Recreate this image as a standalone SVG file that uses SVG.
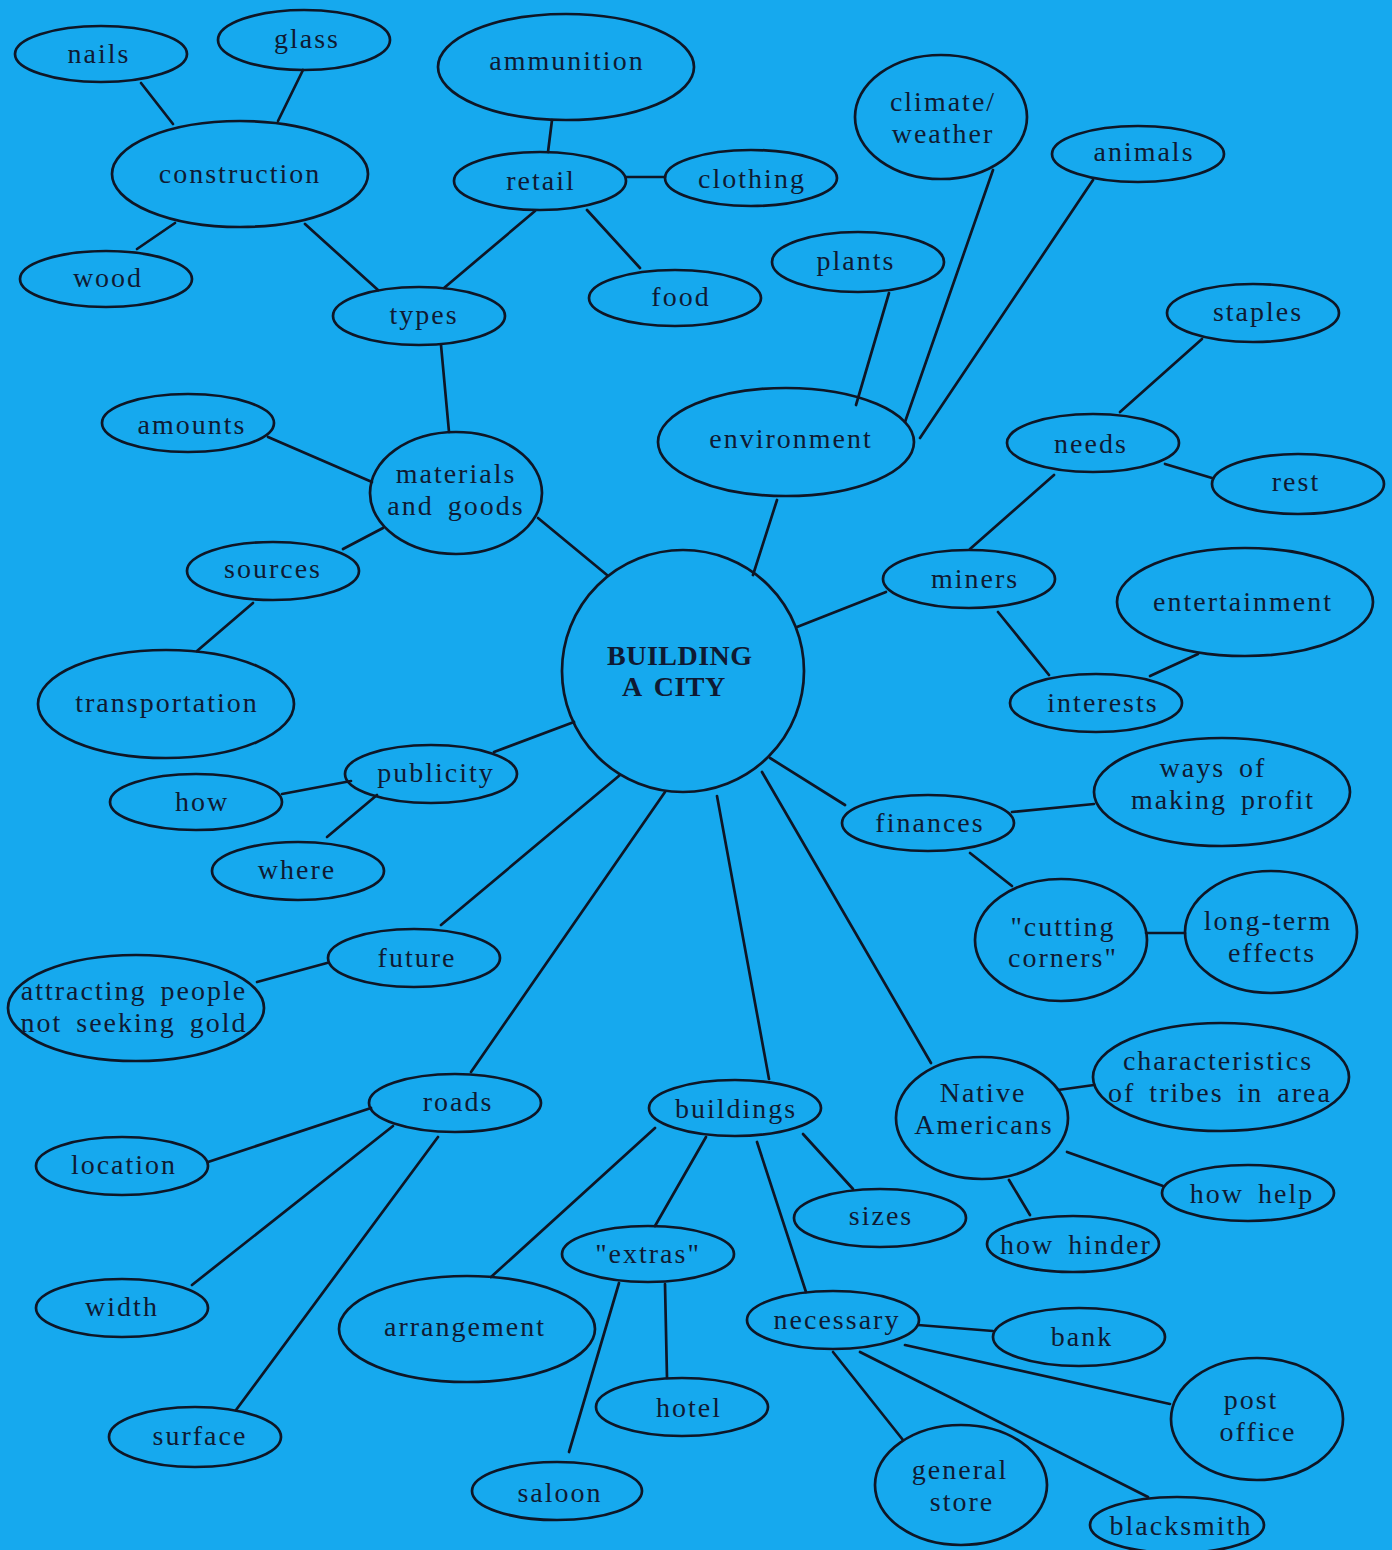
<svg xmlns="http://www.w3.org/2000/svg" width="1392" height="1550" viewBox="0 0 1392 1550">
<style>
  .bg { fill: #16a9ee; }
  .node ellipse, .node circle { fill: none; stroke: #0e1626; stroke-width: 2.7; }
  .edges line { stroke: #0e1626; stroke-width: 2.7; stroke-linecap: round; }
  text { font-family: "Liberation Serif", "DejaVu Serif", serif; font-size: 28px; fill: #0f1a33; text-anchor: middle; dominant-baseline: central; letter-spacing: 2px; word-spacing: 5px; }
  .hub text { font-size: 28px; text-anchor: start; letter-spacing: 0.5px; font-weight: bold; }
</style>
<rect class="bg" x="0" y="0" width="1392" height="1550"/>

<g class="edges">
  <line x1="141" y1="83" x2="173" y2="124"/>
  <line x1="303" y1="70" x2="278" y2="121"/>
  <line x1="175" y1="223" x2="137" y2="249"/>
  <line x1="305" y1="224" x2="378" y2="290"/>
  <line x1="552" y1="120" x2="548" y2="152"/>
  <line x1="626" y1="177" x2="665" y2="177"/>
  <line x1="535" y1="211" x2="444" y2="288"/>
  <line x1="587" y1="210" x2="640" y2="268"/>
  <line x1="441" y1="345" x2="449" y2="432"/>
  <line x1="268" y1="437" x2="372" y2="482"/>
  <line x1="343" y1="549" x2="383" y2="528"/>
  <line x1="253" y1="603" x2="197" y2="651"/>
  <line x1="538" y1="518" x2="607" y2="575"/>
  <line x1="889" y1="293" x2="856" y2="405"/>
  <line x1="993" y1="170" x2="905" y2="422"/>
  <line x1="1093" y1="180" x2="920" y2="438"/>
  <line x1="777" y1="500" x2="753" y2="575"/>
  <line x1="1202" y1="339" x2="1120" y2="412"/>
  <line x1="1165" y1="464" x2="1212" y2="478"/>
  <line x1="1054" y1="475" x2="970" y2="549"/>
  <line x1="797" y1="627" x2="886" y2="592"/>
  <line x1="998" y1="612" x2="1049" y2="675"/>
  <line x1="1150" y1="676" x2="1198" y2="654"/>
  <line x1="574" y1="722" x2="494" y2="752"/>
  <line x1="282" y1="794" x2="351" y2="781"/>
  <line x1="327" y1="837" x2="377" y2="795"/>
  <line x1="770" y1="758" x2="845" y2="805"/>
  <line x1="1012" y1="812" x2="1094" y2="804"/>
  <line x1="970" y1="853" x2="1012" y2="886"/>
  <line x1="1146" y1="933" x2="1185" y2="933"/>
  <line x1="620" y1="775" x2="441" y2="925"/>
  <line x1="257" y1="982" x2="327" y2="963"/>
  <line x1="665" y1="792" x2="471" y2="1072"/>
  <line x1="717" y1="796" x2="769" y2="1079"/>
  <line x1="762" y1="772" x2="931" y2="1063"/>
  <line x1="208" y1="1162" x2="371" y2="1108"/>
  <line x1="192" y1="1285" x2="393" y2="1126"/>
  <line x1="236" y1="1410" x2="438" y2="1137"/>
  <line x1="655" y1="1128" x2="491" y2="1277"/>
  <line x1="706" y1="1137" x2="655" y2="1226"/>
  <line x1="803" y1="1134" x2="853" y2="1189"/>
  <line x1="757" y1="1142" x2="806" y2="1292"/>
  <line x1="1058" y1="1090" x2="1094" y2="1085"/>
  <line x1="1067" y1="1152" x2="1163" y2="1186"/>
  <line x1="1009" y1="1180" x2="1030" y2="1215"/>
  <line x1="665" y1="1284" x2="667" y2="1378"/>
  <line x1="619" y1="1283" x2="569" y2="1452"/>
  <line x1="918" y1="1325" x2="993" y2="1331"/>
  <line x1="905" y1="1345" x2="1170" y2="1404"/>
  <line x1="833" y1="1352" x2="903" y2="1440"/>
  <line x1="860" y1="1352" x2="1148" y2="1497"/>
</g>

<g id="hub" class="node hub">
  <circle cx="683" cy="671" r="121"/>
  <text x="607" y="655">BUILDING</text>
  <text x="622" y="686">A CITY</text>
</g>

<g id="nails" class="node"><ellipse cx="101" cy="54" rx="86" ry="28"/><text x="99" y="53">nails</text></g>
<g id="glass" class="node"><ellipse cx="304" cy="40" rx="86" ry="30"/><text x="307" y="38">glass</text></g>
<g id="construction" class="node"><ellipse cx="240" cy="174" rx="128" ry="53"/><text x="240" y="173">construction</text></g>
<g id="wood" class="node"><ellipse cx="106" cy="279" rx="86" ry="28"/><text x="108" y="277">wood</text></g>
<g id="ammunition" class="node"><ellipse cx="566" cy="67" rx="128" ry="53"/><text x="567" y="60">ammunition</text></g>
<g id="retail" class="node"><ellipse cx="540" cy="181" rx="86" ry="29"/><text x="541" y="180">retail</text></g>
<g id="clothing" class="node"><ellipse cx="751" cy="178" rx="86" ry="28"/><text x="752" y="178">clothing</text></g>
<g id="food" class="node"><ellipse cx="675" cy="298" rx="86" ry="28"/><text x="681" y="296">food</text></g>
<g id="types" class="node"><ellipse cx="419" cy="316" rx="86" ry="29"/><text x="424" y="314">types</text></g>
<g id="climate" class="node"><ellipse cx="941" cy="117" rx="86" ry="62"/><text x="943" y="101">climate/</text><text x="943" y="133">weather</text></g>
<g id="animals" class="node"><ellipse cx="1138" cy="154" rx="86" ry="28"/><text x="1144" y="151">animals</text></g>
<g id="plants" class="node"><ellipse cx="858" cy="262" rx="86" ry="30"/><text x="856" y="260">plants</text></g>
<g id="staples" class="node"><ellipse cx="1253" cy="313" rx="86" ry="29"/><text x="1258" y="311">staples</text></g>
<g id="environment" class="node"><ellipse cx="786" cy="442" rx="128" ry="54"/><text x="791" y="438">environment</text></g>
<g id="needs" class="node"><ellipse cx="1093" cy="443" rx="86" ry="29"/><text x="1091" y="443">needs</text></g>
<g id="rest" class="node"><ellipse cx="1298" cy="484" rx="86" ry="30"/><text x="1296" y="481">rest</text></g>
<g id="amounts" class="node"><ellipse cx="188" cy="423" rx="86" ry="29"/><text x="192" y="424">amounts</text></g>
<g id="materials" class="node"><ellipse cx="456" cy="493" rx="86" ry="61"/><text x="456" y="473">materials</text><text x="456" y="505">and goods</text></g>
<g id="sources" class="node"><ellipse cx="273" cy="571" rx="86" ry="29"/><text x="273" y="568">sources</text></g>
<g id="miners" class="node"><ellipse cx="969" cy="579" rx="86" ry="29"/><text x="975" y="578">miners</text></g>
<g id="entertainment" class="node"><ellipse cx="1245" cy="602" rx="128" ry="54"/><text x="1243" y="601">entertainment</text></g>
<g id="interests" class="node"><ellipse cx="1096" cy="703" rx="86" ry="29"/><text x="1103" y="702">interests</text></g>
<g id="transportation" class="node"><ellipse cx="166" cy="704" rx="128" ry="54"/><text x="167" y="702">transportation</text></g>
<g id="publicity" class="node"><ellipse cx="431" cy="774" rx="86" ry="29"/><text x="436" y="772">publicity</text></g>
<g id="how" class="node"><ellipse cx="196" cy="802" rx="86" ry="28"/><text x="202" y="801">how</text></g>
<g id="where" class="node"><ellipse cx="298" cy="871" rx="86" ry="29"/><text x="297" y="869">where</text></g>
<g id="profit" class="node"><ellipse cx="1222" cy="792" rx="128" ry="54"/><text x="1213" y="767">ways of</text><text x="1223" y="799">making profit</text></g>
<g id="finances" class="node"><ellipse cx="928" cy="823" rx="86" ry="28"/><text x="930" y="822">finances</text></g>
<g id="cutting" class="node"><ellipse cx="1061" cy="940" rx="86" ry="61"/><text x="1063" y="926">"cutting</text><text x="1063" y="957">corners"</text></g>
<g id="longterm" class="node"><ellipse cx="1271" cy="932" rx="86" ry="61"/><text x="1268" y="920">long-term</text><text x="1272" y="952">effects</text></g>
<g id="future" class="node"><ellipse cx="414" cy="958" rx="86" ry="29"/><text x="417" y="957">future</text></g>
<g id="attracting" class="node"><ellipse cx="136" cy="1008" rx="128" ry="53"/><text x="134" y="990">attracting people</text><text x="134" y="1022">not seeking gold</text></g>
<g id="roads" class="node"><ellipse cx="455" cy="1103" rx="86" ry="29"/><text x="458" y="1101">roads</text></g>
<g id="buildings" class="node"><ellipse cx="735" cy="1108" rx="86" ry="28"/><text x="736" y="1108">buildings</text></g>
<g id="native" class="node"><ellipse cx="982" cy="1118" rx="86" ry="61"/><text x="983" y="1092">Native</text><text x="984" y="1124">Americans</text></g>
<g id="tribes" class="node"><ellipse cx="1221" cy="1077" rx="128" ry="54"/><text x="1218" y="1060">characteristics</text><text x="1220" y="1092">of tribes in area</text></g>
<g id="howhelp" class="node"><ellipse cx="1248" cy="1193" rx="86" ry="28"/><text x="1252" y="1193">how help</text></g>
<g id="location" class="node"><ellipse cx="122" cy="1166" rx="86" ry="29"/><text x="124" y="1164">location</text></g>
<g id="sizes" class="node"><ellipse cx="880" cy="1218" rx="86" ry="29"/><text x="881" y="1215">sizes</text></g>
<g id="howhinder" class="node"><ellipse cx="1073" cy="1244" rx="86" ry="28"/><text x="1076" y="1244">how hinder</text></g>
<g id="extras" class="node"><ellipse cx="648" cy="1254" rx="86" ry="28"/><text x="648" y="1253">"extras"</text></g>
<g id="width" class="node"><ellipse cx="122" cy="1308" rx="86" ry="29"/><text x="122" y="1306">width</text></g>
<g id="arrangement" class="node"><ellipse cx="467" cy="1329" rx="128" ry="53"/><text x="465" y="1326">arrangement</text></g>
<g id="necessary" class="node"><ellipse cx="833" cy="1320" rx="86" ry="29"/><text x="837" y="1319">necessary</text></g>
<g id="bank" class="node"><ellipse cx="1079" cy="1337" rx="86" ry="29"/><text x="1082" y="1336">bank</text></g>
<g id="postoffice" class="node"><ellipse cx="1257" cy="1419" rx="86" ry="61"/><text x="1251" y="1399">post</text><text x="1258" y="1431">office</text></g>
<g id="hotel" class="node"><ellipse cx="682" cy="1407" rx="86" ry="29"/><text x="689" y="1407">hotel</text></g>
<g id="surface" class="node"><ellipse cx="195" cy="1437" rx="86" ry="30"/><text x="200" y="1435">surface</text></g>
<g id="generalstore" class="node"><ellipse cx="961" cy="1485" rx="86" ry="60"/><text x="960" y="1469">general</text><text x="962" y="1501">store</text></g>
<g id="saloon" class="node"><ellipse cx="557" cy="1491" rx="85" ry="29"/><text x="560" y="1492">saloon</text></g>
<g id="blacksmith" class="node"><ellipse cx="1177" cy="1525" rx="87" ry="28"/><text x="1181" y="1525">blacksmith</text></g>
</svg>
